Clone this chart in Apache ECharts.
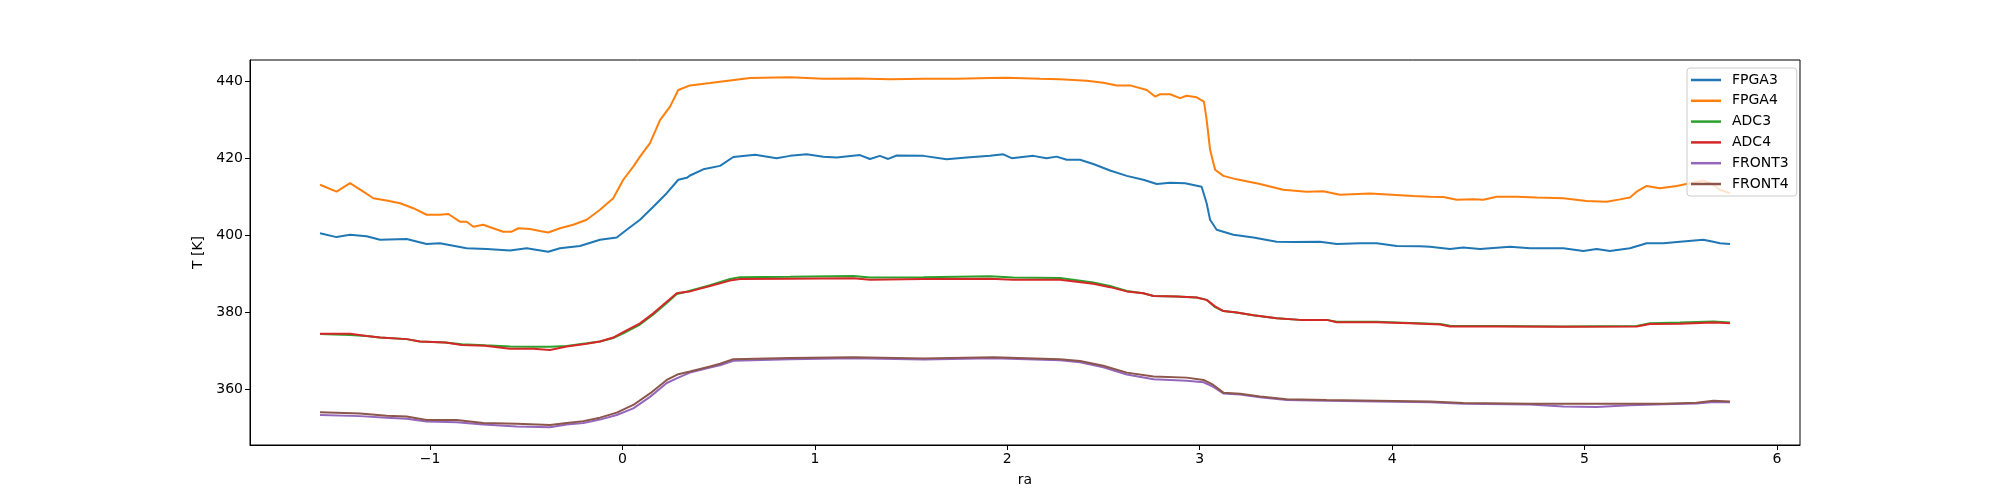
<!DOCTYPE html>
<html>
<head>
<meta charset="utf-8">
<script src="https://cdn.jsdelivr.net/npm/echarts@6/dist/echarts.min.js"></script>
<style>html,body{margin:0;padding:0;background:#fff}#c{width:2000px;height:500px}</style>
</head>
<body>
<div id="c"></div>
<script>
const seriesNames = ['FPGA3','FPGA4','ADC3','ADC4','FRONT3','FRONT4'];
const xTicks = [-1,0,1,2,3,4,5,6];
const yTicks = [360,380,400,420,440];

const FPGA3 = [[-1.572,400.5],[-1.486,399.5],[-1.416,400.1],[-1.33,399.7],[-1.26,398.8],[-1.122,399.0],[-1.018,397.7],[-0.949,397.9],[-0.81,396.6],[-0.706,396.4],[-0.585,396.0],[-0.498,396.6],[-0.386,395.7],[-0.325,396.6],[-0.221,397.2],[-0.117,398.8],[-0.03,399.4],[0.022,401.4],[0.091,404.0],[0.16,407.4],[0.23,410.9],[0.29,414.4],[0.334,414.9],[0.351,415.5],[0.42,417.1],[0.507,418.0],[0.576,420.3],[0.689,420.9],[0.801,420.0],[0.871,420.6],[0.957,421.0],[1.044,420.4],[1.113,420.2],[1.234,420.8],[1.286,419.8],[1.338,420.6],[1.381,419.8],[1.425,420.7],[1.564,420.6],[1.685,419.7],[1.789,420.2],[1.91,420.6],[1.979,421.0],[2.023,420.0],[2.135,420.6],[2.204,420.0],[2.256,420.4],[2.309,419.6],[2.378,419.6],[2.447,418.5],[2.534,416.8],[2.621,415.4],[2.707,414.4],[2.777,413.3],[2.846,413.6],[2.924,413.5],[3.01,412.6],[3.036,408.3],[3.054,404.0],[3.088,401.4],[3.175,400.1],[3.279,399.4],[3.40,398.3],[3.488,398.2],[3.625,398.3],[3.712,397.7],[3.833,397.9],[3.92,397.9],[4.024,397.2],[4.145,397.1],[4.197,397.0],[4.301,396.4],[4.37,396.8],[4.457,396.4],[4.613,397.0],[4.717,396.6],[4.89,396.6],[4.994,395.9],[5.063,396.4],[5.132,395.9],[5.236,396.6],[5.323,397.9],[5.41,397.9],[5.496,398.3],[5.617,398.8],[5.67,398.3],[5.704,397.9],[5.756,397.7]];

const FPGA4 = [[-1.572,413.1],[-1.486,411.3],[-1.416,413.5],[-1.347,411.3],[-1.295,409.6],[-1.226,409.0],[-1.156,408.3],[-1.087,407.0],[-1.018,405.3],[-0.949,405.3],[-0.905,405.5],[-0.845,403.5],[-0.81,403.5],[-0.775,402.2],[-0.724,402.7],[-0.672,401.8],[-0.62,400.9],[-0.576,400.9],[-0.541,401.8],[-0.481,401.6],[-0.429,401.1],[-0.386,400.7],[-0.325,401.8],[-0.256,402.7],[-0.186,404.0],[-0.117,406.6],[-0.048,409.6],[0.004,414.4],[0.056,417.8],[0.091,420.4],[0.143,423.9],[0.195,429.9],[0.247,433.4],[0.29,437.7],[0.351,438.9],[0.455,439.5],[0.559,440.2],[0.663,440.8],[0.871,441.0],[1.044,440.6],[1.217,440.7],[1.39,440.5],[1.564,440.6],[1.737,440.6],[1.91,440.8],[1.997,440.9],[2.17,440.6],[2.274,440.5],[2.413,440.1],[2.499,439.6],[2.569,438.9],[2.638,438.9],[2.725,437.7],[2.768,436.0],[2.794,436.6],[2.846,436.6],[2.898,435.6],[2.932,436.2],[2.984,435.8],[3.022,434.7],[3.036,430.0],[3.054,422.2],[3.08,417.0],[3.123,415.4],[3.192,414.5],[3.313,413.3],[3.434,411.8],[3.556,411.3],[3.642,411.4],[3.729,410.5],[3.885,410.8],[3.998,410.5],[4.11,410.2],[4.197,410.0],[4.266,409.9],[4.336,409.2],[4.422,409.3],[4.474,409.2],[4.544,410.0],[4.648,410.0],[4.752,409.8],[4.89,409.6],[5.011,408.9],[5.115,408.7],[5.184,409.3],[5.236,409.8],[5.271,411.3],[5.323,412.8],[5.392,412.2],[5.479,412.8],[5.548,413.5],[5.617,414.2],[5.67,413.1],[5.704,411.8],[5.756,410.9]];

const ADC3 = [[-1.572,374.3],[-1.416,374.1],[-1.33,373.8],[-1.26,373.4],[-1.122,373.0],[-1.053,372.4],[-0.92,372.1],[-0.835,371.7],[-0.714,371.4],[-0.585,371.1],[-0.464,371.0],[-0.377,371.0],[-0.29,371.2],[-0.186,371.9],[-0.117,372.4],[-0.048,373.3],[0.004,374.5],[0.091,376.8],[0.16,379.4],[0.23,382.4],[0.282,384.7],[0.334,385.3],[0.351,385.6],[0.455,387.0],[0.559,388.6],[0.611,389.1],[0.871,389.2],[1.2,389.4],[1.286,389.0],[1.564,389.1],[1.91,389.3],[2.031,389.0],[2.274,388.9],[2.447,387.7],[2.534,386.8],[2.621,385.5],[2.707,384.9],[2.76,384.2],[2.881,384.1],[2.984,383.8],[3.036,383.2],[3.08,381.3],[3.123,380.3],[3.192,379.9],[3.279,379.2],[3.40,378.4],[3.521,378.0],[3.66,378.0],[3.712,377.5],[3.92,377.5],[4.093,377.2],[4.25,376.9],[4.301,376.5],[4.544,376.4],[4.89,376.3],[5.271,376.4],[5.34,377.1],[5.496,377.3],[5.67,377.6],[5.756,377.3]];

const ADC4 = [[-1.572,374.4],[-1.416,374.4],[-1.33,373.8],[-1.26,373.4],[-1.122,373.0],[-1.053,372.4],[-0.92,372.1],[-0.835,371.5],[-0.714,371.3],[-0.585,370.5],[-0.464,370.5],[-0.377,370.2],[-0.29,371.1],[-0.186,371.8],[-0.117,372.4],[-0.048,373.4],[0.004,374.8],[0.091,377.1],[0.16,379.7],[0.23,382.7],[0.282,384.9],[0.334,385.3],[0.351,385.4],[0.455,386.8],[0.559,388.2],[0.611,388.6],[0.871,388.7],[1.2,388.8],[1.286,388.4],[1.564,388.6],[1.91,388.7],[2.031,388.4],[2.274,388.4],[2.447,387.4],[2.534,386.5],[2.621,385.4],[2.707,384.9],[2.76,384.2],[2.881,384.1],[2.984,383.8],[3.036,383.2],[3.08,381.5],[3.123,380.3],[3.192,379.9],[3.279,379.2],[3.40,378.4],[3.521,378.0],[3.66,378.0],[3.712,377.4],[3.92,377.4],[4.093,377.1],[4.25,376.8],[4.301,376.3],[4.544,376.3],[4.89,376.2],[5.271,376.3],[5.34,376.9],[5.496,377.0],[5.67,377.3],[5.756,377.1]];

const FRONT3 = [[-1.572,353.3],[-1.364,353.0],[-1.226,352.6],[-1.122,352.3],[-1.018,351.6],[-0.862,351.4],[-0.724,350.8],[-0.55,350.3],[-0.377,350.1],[-0.29,350.8],[-0.204,351.2],[-0.117,352.1],[-0.03,353.3],[0.056,355.0],[0.143,358.0],[0.23,361.6],[0.29,363.0],[0.351,364.3],[0.455,365.6],[0.507,366.2],[0.576,367.4],[0.871,367.8],[1.2,368.0],[1.564,367.7],[1.927,368.0],[2.274,367.5],[2.378,367.0],[2.499,365.7],[2.621,363.8],[2.76,362.6],[2.932,362.2],[3.02,361.8],[3.071,360.6],[3.123,358.9],[3.21,358.6],[3.313,357.9],[3.452,357.2],[3.66,357.0],[3.92,356.8],[4.197,356.6],[4.37,356.2],[4.717,356.0],[4.89,355.5],[5.063,355.4],[5.236,355.8],[5.41,356.1],[5.583,356.3],[5.67,356.7],[5.756,356.6]];

const FRONT4 = [[-1.572,354.0],[-1.364,353.7],[-1.226,353.1],[-1.122,352.9],[-1.018,352.0],[-0.862,352.0],[-0.724,351.2],[-0.55,351.0],[-0.377,350.7],[-0.29,351.2],[-0.204,351.7],[-0.117,352.6],[-0.03,353.9],[0.056,355.9],[0.143,358.9],[0.23,362.4],[0.29,363.9],[0.351,364.6],[0.455,365.9],[0.507,366.6],[0.576,367.8],[0.871,368.1],[1.2,368.3],[1.564,368.0],[1.927,368.3],[2.274,367.8],[2.378,367.3],[2.499,366.1],[2.621,364.3],[2.76,363.3],[2.932,363.0],[3.02,362.4],[3.071,361.1],[3.123,359.1],[3.21,358.8],[3.313,358.1],[3.452,357.4],[3.66,357.2],[3.92,357.0],[4.197,356.8],[4.37,356.4],[4.717,356.2],[5.063,356.2],[5.41,356.2],[5.583,356.5],[5.67,357.0],[5.756,356.8]];

const colors = ['#1f77b4','#ff7f0e','#2ca02c','#d62728','#9467bd','#8c564b'];
const allData = [FPGA3, FPGA4, ADC3, ADC4, FRONT3, FRONT4];
const font = 'DejaVu Sans';

const chart = echarts.init(document.getElementById('c'), null, {renderer: 'canvas'});
chart.setOption({
  animation: false,
  color: colors,
  textStyle: {fontFamily: font},
  grid: {left: 250, right: 200, top: 60, bottom: 55, show: true, borderColor: '#000', borderWidth: 1, backgroundColor: 'transparent'},
  legend: {
    orient: 'vertical', left: 1687, top: 68,
    data: seriesNames,
    icon: 'rect', itemWidth: 30, itemHeight: 2.5, itemGap: 6.8,
    padding: [5, 8, 5, 4],
    backgroundColor: 'rgba(255,255,255,0.8)', borderColor: '#cccccc', borderWidth: 1, borderRadius: 3,
    textStyle: {fontFamily: font, fontSize: 14, color: '#000', padding: [0, 0, 0, 6]}
  },
  xAxis: {
    type: 'value', min: -1.936, max: 6.12,
    name: 'ra', nameLocation: 'middle', nameGap: 28,
    nameTextStyle: {fontFamily: font, fontSize: 14, color: '#000'},
    axisLine: {show: true, onZero: false, lineStyle: {color: '#000', width: 1}},
    axisTick: {show: true, length: 5, customValues: xTicks, lineStyle: {color: '#000'}},
    axisLabel: {show: true, customValues: xTicks, margin: 7, fontFamily: font, fontSize: 14, color: '#000',
      formatter: v => (v < 0 ? '\u2212' + Math.abs(v) : String(v))},
    splitLine: {show: false}
  },
  yAxis: {
    type: 'value', min: 345.5, max: 445.5,
    name: 'T [K]', nameLocation: 'middle', nameGap: 43, nameRotate: 90,
    nameTextStyle: {fontFamily: font, fontSize: 14, color: '#000'},
    axisLine: {show: true, onZero: false, lineStyle: {color: '#000', width: 1}},
    axisTick: {show: true, length: 5, customValues: yTicks, lineStyle: {color: '#000'}},
    axisLabel: {show: true, customValues: yTicks, margin: 7, fontFamily: font, fontSize: 14, color: '#000'},
    splitLine: {show: false}
  },
  series: seriesNames.map((n, i) => ({
    name: n, type: 'line', data: allData[i], showSymbol: false, symbol: 'none',
    lineStyle: {width: 2, color: colors[i]}, z: 2 + i * 0.01
  }))
});
</script>
</body>
</html>
